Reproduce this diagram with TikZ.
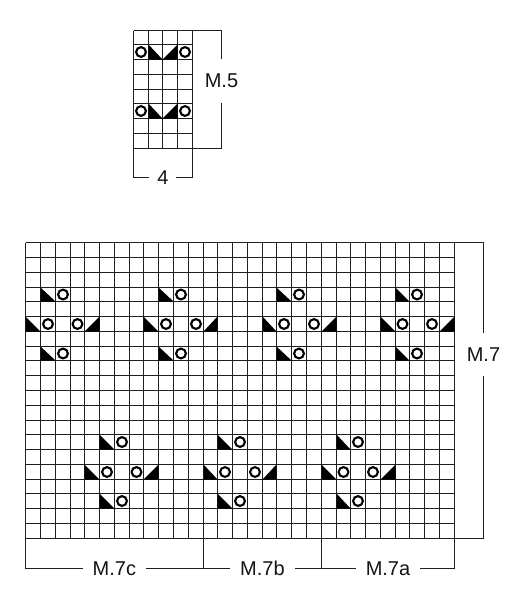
\documentclass[tikz,border=0pt]{standalone}
\usepackage{fontspec}
\setmainfont{Liberation Sans}
% #1,#2 = chart origin (px); #3 = column, #4 = row (1-based)
\newcommand\chtriL[4]{\fill[black] ({p(#1,#3-1)},{p(#2,#4-1)}) -- ({p(#1,#3-1)},{p(#2,#4)}) -- ({p(#1,#3)},{p(#2,#4)}) -- cycle;}
\newcommand\chtriR[4]{\fill[black] ({p(#1,#3)},{p(#2,#4-1)}) -- ({p(#1,#3)},{p(#2,#4)}) -- ({p(#1,#3-1)},{p(#2,#4)}) -- cycle;}
\newcommand\chyo[4]{\draw[yo] ({(p(#1,#3-1)+p(#1,#3))/2},{(p(#2,#4-1)+p(#2,#4))/2}) circle[radius=4.9pt];}
\newcommand\chmotif[2]{%
  \chtriL{25.7}{242.7}{#1+1}{#2}\chyo{25.7}{242.7}{#1+2}{#2}%
  \chtriL{25.7}{242.7}{#1}{#2+2}\chyo{25.7}{242.7}{#1+1}{#2+2}%
  \chyo{25.7}{242.7}{#1+3}{#2+2}\chtriR{25.7}{242.7}{#1+4}{#2+2}%
  \chtriL{25.7}{242.7}{#1+1}{#2+4}\chyo{25.7}{242.7}{#1+2}{#2+4}}
\begin{document}
\begin{tikzpicture}[x=1pt,y=-1pt,
  declare function={p(\o,\c)=floor(\o+\c*14.78)+0.5;},
  gridline/.style={draw=black!88, line width=1.6pt},
  bracket/.style={draw=black!88, line width=1.55pt},
  yo/.style={draw=black, line width=2.1pt, fill=white},
  hlbl/.style={font=\fontsize{20}{20}\selectfont, text=black!92, fill=white, inner xsep=10pt, inner ysep=2pt},
  vlbl/.style={font=\fontsize{20}{20}\selectfont, text=black!92, fill=white, inner xsep=1pt, inner ysep=15pt}]
\useasboundingbox (0,0) rectangle (515,600);
\fill[white] (0,0) rectangle (515,600);

% ---------- M.5 chart ----------
\foreach \i in {0,...,4} \draw[gridline] ({p(133.3,\i)},{p(30,0)}) -- ({p(133.3,\i)},{p(30,8)});
\foreach \j in {0,...,8} \draw[gridline] ({p(133.3,0)},{p(30,\j)}) -- ({p(133.3,4)},{p(30,\j)});
\foreach \r in {2,6} {
  \chyo{133.3}{30}{1}{\r}\chtriL{133.3}{30}{2}{\r}\chtriR{133.3}{30}{3}{\r}\chyo{133.3}{30}{4}{\r}
}
\coordinate (m5tr) at ({p(133.3,4)},{p(30,0)});
\coordinate (m5br) at ({p(133.3,4)},{p(30,8)});
\coordinate (m5bl) at ({p(133.3,0)},{p(30,8)});
\draw[bracket] (m5tr) -- (221.5,30.5) -- (221.5,148.5) -- (m5br);
\draw[bracket] (m5bl) -- (133.5,177.5) -- (192.5,177.5) -- (m5br);
\node[vlbl] (lm5) at (221.5,80.8) {M.5};
\node[hlbl, inner xsep=8pt] (l4) at (162.9,177.5) {4};

% ---------- M.7 chart ----------
\foreach \i in {0,...,29} \draw[gridline] ({p(25.7,\i)},{p(242.7,0)}) -- ({p(25.7,\i)},{p(242.7,20)});
\foreach \j in {0,...,20} \draw[gridline] ({p(25.7,0)},{p(242.7,\j)}) -- ({p(25.7,29)},{p(242.7,\j)});
\foreach \s in {1,9,17,25} {\chmotif{\s}{4}}
\foreach \s in {5,13,21} {\chmotif{\s}{14}}

\coordinate (m7tr) at ({p(25.7,29)},{p(242.7,0)});
\coordinate (m7br) at ({p(25.7,29)},{p(242.7,20)});
\draw[bracket] (m7tr) -- (483.5,242.5) -- (483.5,538.5) -- (m7br);
\node[vlbl] (lm7) at (483.5,354.5) {M.7};

\coordinate (b0) at ({p(25.7,0)},{p(242.7,20)});
\coordinate (b1) at ({p(25.7,12)},{p(242.7,20)});
\coordinate (b2) at ({p(25.7,20)},{p(242.7,20)});
\coordinate (b3) at ({p(25.7,29)},{p(242.7,20)});
\draw[bracket] (b0) -- (25.5,568.5) -- (454.5,568.5) -- (b3);
\draw[bracket] (b1) -- (203.5,568.5);
\draw[bracket] (b2) -- (321.5,568.5);
\node[hlbl] (lc) at (114.4,568.5) {M.7c};
\node[hlbl] (lb) at (262.4,568.5) {M.7b};
\node[hlbl] (la) at (388,568.5) {M.7a};
\end{tikzpicture}
\end{document}
